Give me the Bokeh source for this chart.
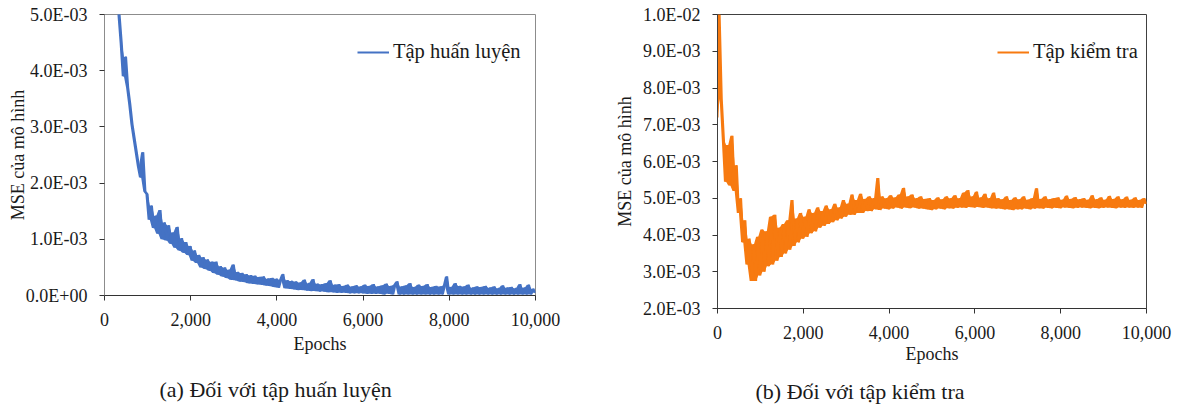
from bokeh.plotting import figure
from bokeh.layouts import row
from bokeh.models import Range1d, FixedTicker, NumeralTickFormatter, CustomJSTickFormatter, Legend, LegendItem
from bokeh.embed import file_html
from bokeh.resources import INLINE

FONT = "Liberation Serif"

# ---- data (MSE values in units of 1e-3) ----
epochs = list(range(0, 10001, 50))

train_mse_e3 = [
    12.0, 10.2, 8.9, 7.8, 6.9, 6.2, 5.6, 5.0, 4.5, 3.9,
    4.25, 3.7, 3.4, 3.05, 2.8, 2.55, 2.3, 2.1, 2.55, 1.85,
    1.8, 1.35, 1.6, 1.2, 1.42, 1.1, 1.52, 1.0, 1.3, 0.98,
    1.25, 0.92, 1.12, 0.85, 1.22, 0.8, 1.02, 0.76, 0.95, 0.72,
    0.88, 0.62, 0.8, 0.58, 0.72, 0.5, 0.68, 0.47, 0.64, 0.44,
    0.6, 0.4, 0.6, 0.37, 0.52, 0.34, 0.5, 0.31, 0.46, 0.28,
    0.55, 0.27, 0.42, 0.25, 0.4, 0.24, 0.38, 0.22, 0.36, 0.21,
    0.35, 0.2, 0.33, 0.19, 0.34, 0.18, 0.3, 0.17, 0.31, 0.15,
    0.3, 0.14, 0.28, 0.38, 0.13, 0.27, 0.12, 0.26, 0.11, 0.25,
    0.1, 0.23, 0.1, 0.28, 0.09, 0.22, 0.08, 0.29, 0.08, 0.21,
    0.07, 0.2, 0.07, 0.22, 0.06, 0.27, 0.06, 0.19, 0.05, 0.2,
    0.05, 0.17, 0.05, 0.19, 0.04, 0.16, 0.04, 0.18, 0.04, 0.16,
    0.04, 0.19, 0.03, 0.17, 0.03, 0.2, 0.03, 0.16, 0.03, 0.18,
    0.02, 0.21, 0.03, 0.17, 0.02, 0.19, 0.25, 0.02, 0.16, 0.02,
    0.18, 0.02, 0.22, 0.02, 0.15, 0.02, 0.19, 0.02, 0.17, 0.02,
    0.2, 0.02, 0.15, 0.02, 0.17, 0.02, 0.16, 0.02, 0.18, 0.34,
    0.02, 0.15, 0.02, 0.22, 0.02, 0.17, 0.02, 0.16, 0.02, 0.19,
    0.02, 0.14, 0.02, 0.16, 0.02, 0.15, 0.02, 0.17, 0.02, 0.14,
    0.02, 0.16, 0.02, 0.13, 0.02, 0.18, 0.02, 0.14, 0.02, 0.15,
    0.02, 0.13, 0.02, 0.2, 0.02, 0.14, 0.02, 0.19, 0.02, 0.12,
    0.05,
]

test_mse_e3 = [
    7.2, 10.0, 7.7, 6.6, 5.45, 6.45, 5.35, 6.7, 5.2, 5.9,
    4.6, 5.0, 3.8, 4.4, 3.2, 3.9, 2.75, 3.75, 2.75, 3.95,
    2.9, 4.15, 3.0, 4.1, 3.15, 4.5, 3.2, 4.55, 3.3, 4.2,
    3.4, 4.3, 3.5, 4.4, 3.6, 4.95, 3.7, 4.45, 3.8, 4.6,
    3.9, 4.5, 3.95, 4.7, 4.05, 4.6, 4.1, 4.75, 4.2, 4.65,
    4.25, 4.8, 4.3, 4.7, 4.35, 4.85, 4.4, 4.75, 4.45, 4.95,
    4.5, 4.85, 4.55, 5.1, 4.55, 4.95, 4.6, 5.12, 4.6, 4.98,
    4.65, 5.05, 4.65, 5.0, 4.7, 5.55, 4.68, 5.05, 4.72, 5.0,
    4.7, 5.08, 4.72, 5.02, 4.75, 5.1, 4.72, 5.28, 4.75, 5.05,
    4.73, 5.1, 4.75, 5.0, 4.72, 5.05, 4.72, 4.98, 4.7, 5.0,
    4.68, 4.95, 4.7, 5.02, 4.72, 4.97, 4.7, 5.05, 4.73, 5.0,
    4.72, 5.08, 4.74, 5.0, 4.75, 5.15, 4.74, 5.22, 4.76, 5.05,
    4.75, 5.18, 4.76, 5.02, 4.74, 5.12, 4.75, 5.0, 4.73, 5.15,
    4.72, 5.0, 4.72, 4.97, 4.7, 5.05, 4.7, 4.95, 4.68, 5.02,
    4.7, 4.97, 4.7, 5.05, 4.72, 4.96, 4.7, 5.0, 4.72, 5.27,
    4.73, 4.98, 4.72, 5.05, 4.74, 4.97, 4.73, 5.0, 4.74, 5.02,
    4.73, 4.96, 4.75, 5.07, 4.74, 4.98, 4.73, 5.03, 4.74, 4.97,
    4.75, 5.0, 4.74, 4.96, 4.73, 5.08, 4.74, 4.97, 4.73, 5.02,
    4.74, 4.96, 4.75, 5.06, 4.74, 4.98, 4.73, 5.05, 4.75, 4.97,
    4.74, 5.04, 4.75, 4.96, 4.74, 5.02, 4.75, 4.95, 4.74, 5.0,
    4.85,
]

x_ticks = [0, 2000, 4000, 6000, 8000, 10000]
train_y_ticks = [0.0, 0.001, 0.002, 0.003, 0.004, 0.005]
test_y_ticks = [0.002, 0.003, 0.004, 0.005, 0.006, 0.007, 0.008, 0.009, 0.010]

series_names = ["Tập huấn luyện", "Tập kiểm tra"]
captions = ["(a)  Đối với tập huấn luyện", "(b)  Đối với tập kiểm tra"]
x_label = "Epochs"
y_label = "MSE của mô hình"

assert len(train_mse_e3) == len(epochs) and len(test_mse_e3) == len(epochs)
train_mse = [v * 1e-3 for v in train_mse_e3]
test_mse = [v * 1e-3 for v in test_mse_e3]

exp_fmt = CustomJSTickFormatter(code="""
const s = tick.toExponential(1).toUpperCase();
const parts = s.split("E");
let e = parts[1];
const sign = e[0] === "-" ? "-" : "+";
e = e.replace("+", "").replace("-", "");
if (e.length < 2) { e = "0" + e; }
return parts[0] + "E" + sign + e;
""")


def make_panel(y, color, yr, yticks, name, caption, fw, fh, bl, br, bt, bb, mleft,
               frame_col, ylab_standoff, xlab_standoff, cap_standoff, cap_offset, leg_loc):
    p = figure(frame_width=fw, frame_height=fh, min_border_left=bl, min_border_right=br,
               min_border_top=bt, min_border_bottom=bb, toolbar_location=None,
               output_backend="svg", x_range=Range1d(0, 10000), y_range=Range1d(*yr),
               title=caption, title_location="below", margin=(0, 0, 0, mleft))
    p.background_fill_color = "white"
    p.border_fill_color = "white"
    p.outline_line_color = frame_col
    p.outline_line_width = 1
    p.xgrid.visible = False
    p.ygrid.visible = False

    # the noisy band: fill between successive read values, then the line itself
    lo = [min(a, b) for a, b in zip(y, y[1:])] + [y[-1]]
    hi = [max(a, b) for a, b in zip(y, y[1:])] + [y[-1]]
    p.varea(x=epochs, y1=lo, y2=hi, fill_color=color)
    r = p.line(epochs, y, line_color=color, line_width=2)

    for ax in (p.xaxis[0], p.yaxis[0]):
        ax.major_label_text_font = FONT
        ax.major_label_text_font_size = "18px"
        ax.major_label_text_color = "#1a1a1a"
        ax.axis_label_text_font = FONT
        ax.axis_label_text_font_size = "18px"
        ax.axis_label_text_font_style = "normal"
        ax.axis_label_text_color = "#1a1a1a"
        ax.minor_tick_line_color = None
        ax.major_tick_in = 0
        ax.major_tick_out = 5
        ax.major_tick_line_color = "#333333"

    p.xaxis[0].ticker = FixedTicker(ticks=x_ticks)
    p.xaxis[0].formatter = NumeralTickFormatter(format="0,0")
    p.xaxis[0].axis_label = x_label
    p.xaxis[0].major_label_standoff = 12
    p.xaxis[0].axis_label_standoff = xlab_standoff
    p.xaxis[0].axis_line_color = "#333333"

    p.yaxis[0].ticker = FixedTicker(ticks=yticks)
    p.yaxis[0].formatter = exp_fmt
    p.yaxis[0].axis_label = y_label
    p.yaxis[0].major_label_standoff = 12
    p.yaxis[0].axis_label_standoff = ylab_standoff
    p.yaxis[0].axis_line_color = frame_col

    p.title.text_font = FONT
    p.title.text_font_size = "22px"
    p.title.text_font_style = "normal"
    p.title.text_color = "#1a1a1a"
    p.title.align = "left"
    p.title.offset = cap_offset
    p.title.standoff = cap_standoff

    leg = Legend(items=[LegendItem(label=name, renderers=[r])], location=leg_loc,
                 padding=0, margin=0, spacing=0, glyph_width=32, label_standoff=4,
                 label_text_font=FONT, label_text_font_size="20.5px",
                 label_text_color="#1a1a1a", border_line_color=None,
                 background_fill_alpha=0)
    p.add_layout(leg, "center")
    return p


# both figures get the same total height (14+281+108 = 12+294+97 = 403)
p1 = make_panel(train_mse, "#4472C4", (0, 0.005), train_y_ticks, series_names[0], captions[0],
                fw=431, fh=281, bl=97, br=57, bt=14, bb=108, mleft=4, frame_col="#8c8c8c",
                ylab_standoff=-5, xlab_standoff=5, cap_standoff=36, cap_offset=55,
                leg_loc=(253, 232))
p2 = make_panel(test_mse, "#F77A10", (0.002, 0.010), test_y_ticks, series_names[1], captions[1],
                fw=429, fh=294, bl=124, br=30, bt=12, bb=97, mleft=1, frame_col="#404040",
                ylab_standoff=5, xlab_standoff=2, cap_standoff=21, cap_offset=38,
                leg_loc=(280, 245))

layout = row(p1, p2, spacing=0)
open("out.html", "w").write(file_html(layout, INLINE))
